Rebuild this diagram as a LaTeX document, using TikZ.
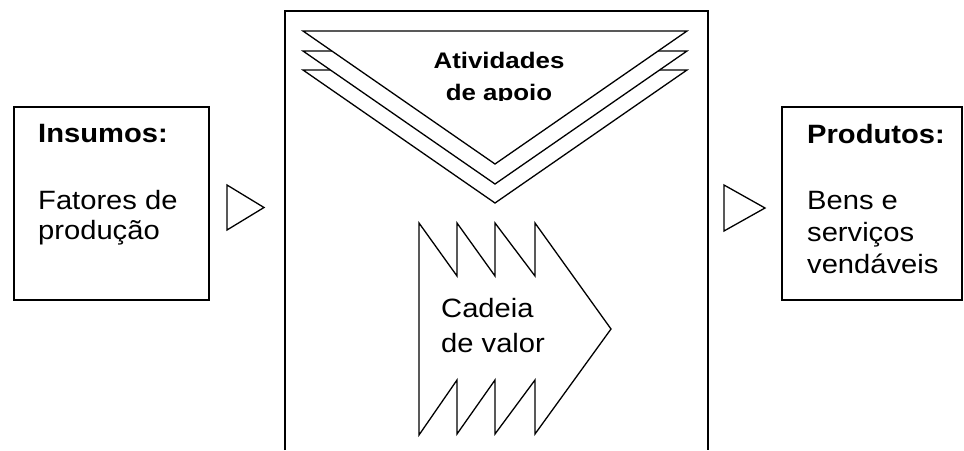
\documentclass[tikz,border=0pt]{standalone}
\usepackage{fontspec}
\setmainfont{Liberation Sans}
\newcommand\sx[1]{\scalebox{1.1}[1]{#1}}
\newcommand\sxb[1]{\scalebox{1.15}[1]{#1}}
\begin{document}
\begin{tikzpicture}[x=1pt,y=-1pt,
  boxline/.style={line width=2pt},
  shapeline/.style={line width=1.3pt, line join=miter, fill=white},
  txt/.style={inner sep=0pt, anchor=base west, font=\fontsize{26.5}{30}\selectfont},
  txtb/.style={inner sep=0pt, anchor=base west, font=\fontsize{26.5}{30}\selectfont\bfseries},
  txtc/.style={inner sep=0pt, anchor=base, font=\fontsize{22.5}{27}\selectfont\bfseries}]
\useasboundingbox (0,0) rectangle (964,450);
% boxes
\draw[boxline] (14,107) rectangle (209,300);
\draw[boxline] (782,107) rectangle (962,300);
\draw[boxline] (285,450) -- (285,11) -- (708,11) -- (708,450);
% triangles
\draw[shapeline] (227,185) -- (264,207.5) -- (227,230) -- cycle;
\draw[shapeline] (724,185) -- (765,208) -- (724,231) -- cycle;
% support activities chevrons
\draw[shapeline] (303,70) -- (687,70) -- (495,203) -- cycle;
\draw[shapeline] (303,51) -- (687,51) -- (495,184) -- cycle;
\draw[shapeline] (303,31) -- (687,31) -- (495,164) -- cycle;
\begin{scope}
  \clip (400,35) rectangle (600,100.5);
  \node[txtc] (ativ) at (499,68) {\sxb{Atividades}};
  \node[txtc] (apoio) at (499,100) {\sxb{de apoio}};
\end{scope}
% value chain arrow
\draw[shapeline] (419,223) -- (457,276) -- (457,223) -- (495,276) -- (495,223)
  -- (535,276) -- (535,223) -- (611,329) -- (535,434) -- (535,380) -- (495,434)
  -- (495,380) -- (457,434) -- (457,380) -- (419,435) -- cycle;
\node[txt] (cad) at (441,317) {\sx{Cadeia}};
\node[txt] (val) at (441,352) {\sx{de valor}};
% left texts
\node[txtb] (ins) at (38,142) {\sx{Insumos:}};
\node[txt] (fat) at (38,209) {\sx{Fatores de}};
\node[txt] (prod) at (38,239) {\sx{produção}};
% right texts
\node[txtb] (pro) at (807,143) {\sx{Produtos:}};
\node[txt] (bens) at (807,209) {\sx{Bens e}};
\node[txt] (serv) at (807,241) {\sx{serviços}};
\node[txt] (vend) at (807,273) {\sx{vendáveis}};
\end{tikzpicture}
\end{document}
